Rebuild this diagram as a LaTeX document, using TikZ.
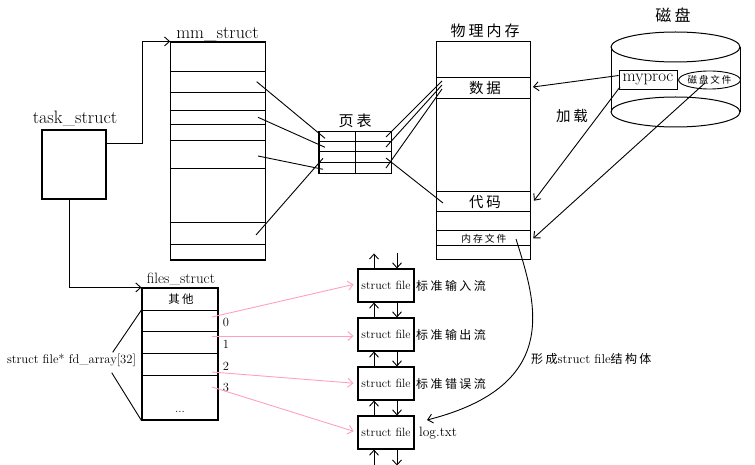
\documentclass[tikz,border=0pt]{standalone}
\usepackage{fontspec}
\newfontfamily\cjk[LetterSpace=20]{Noto Sans CJK SC}
\usetikzlibrary{arrows.meta,calc,shapes.geometric}
\definecolor{pinkc}{RGB}{255,160,195}
\newcommand\myfs[1]{\fontsize{#1}{#1}\selectfont}
\begin{document}
\begin{tikzpicture}[x=1pt,y=-1pt,
  box/.style={draw, line width=1.1pt, inner sep=0pt, rectangle},
  rowline/.style={line width=1pt},
  conn/.style={line width=0.9pt},
  arr/.style={line width=0.9pt, -{Straight Barb[length=5pt,width=9pt]}},
  pinkarr/.style={draw=pinkc, line width=0.9pt, -{Straight Barb[length=5pt,width=9pt]}},
  lbl/.style={inner sep=0pt}]
\useasboundingbox (0,0) rectangle (755,465);

% task_struct
\node[box, minimum width=64pt, minimum height=69pt] (task) at (74,164.5) {};
\node[lbl, anchor=base, font=\myfs{18}] (tasklbl) at (75,124) {task\_struct};

% mm_struct
\node[box, minimum width=95pt, minimum height=218pt] (mm) at (218.2,151) {};
\node[lbl, anchor=base, font=\myfs{18}] (mmlbl) at (217.5,39) {mm\_struct};
\foreach \yy in {71.7,92.3,111,124.3,141,169,222.7,244.3}
  \draw[rowline] (mm.west |- 0,\yy) -- (mm.east |- 0,\yy);

% page table
\node[box, minimum width=72.7pt, minimum height=42.3pt] (pt) at (355.3,152.8) {};
\node[lbl, font=\cjk\myfs{15}] (ptlbl) at (355,120.5) {页表};
\foreach \yy in {141.7,151.7,163}
  \draw[rowline] (pt.west |- 0,\yy) -- (pt.east |- 0,\yy);
\draw[rowline] (pt.north) -- (pt.south);

% physical memory
\node[box, minimum width=94pt, minimum height=217.3pt] (pm) at (483.7,150.6) {};
\node[lbl, font=\cjk\myfs{15}] (pmlbl) at (485,31) {物理内存};
\foreach \yy in {77.7,98.3,192,212,230.5,245.7}
  \draw[rowline] (pm.west |- 0,\yy) -- (pm.east |- 0,\yy);
\node[lbl, font=\cjk\myfs{14.5}] (data) at (485,88) {数据};
\node[lbl, font=\cjk\myfs{14.5}] (code) at (485,202) {代码};
\node[lbl, font=\cjk\myfs{9.8}] (memfile) at (484,238.3) {内存文件};

% disk
\draw[rowline] (675.5,47) ellipse [x radius=64.5pt, y radius=15pt];
\draw[rowline] (611,47) -- (611,112) (740,47) -- (740,112);
\draw[rowline] (675.5,112) ellipse [x radius=64.5pt, y radius=15pt];
\node[lbl, font=\cjk\myfs{16}] (disklbl) at (673,15) {磁盘};
\node[box, line width=0.9pt, minimum width=58pt, minimum height=19pt, font=\myfs{17}] (myproc) at (648,79.5) {myproc};
\node[draw, ellipse, line width=0.9pt, inner sep=0pt, minimum width=57pt, minimum height=18pt, font=\cjk\myfs{9.5}] (dfile) at (709.5,80) {磁盘文件};
\node[lbl, font=\cjk\myfs{14.5}] (load) at (572,116) {加载};

% files_struct
\node[box, minimum width=76pt, minimum height=132pt] (files) at (180,354) {};
\node[lbl, anchor=base, font=\myfs{15}] (fileslbl) at (181,283) {files\_struct};
\foreach \yy in {310,331.7,353.7,375.7}
  \draw[rowline] (files.west |- 0,\yy) -- (files.east |- 0,\yy);
\node[lbl, font=\cjk\myfs{11.5}] (other) at (181,299.5) {其他};
\node[lbl, anchor=base, font=\myfs{12}] (dots) at (180,412) {...};
\node[lbl, font=\myfs{12.5}] (n0) at (226,322) {0};
\node[lbl, font=\myfs{12.5}] (n1) at (226,344) {1};
\node[lbl, font=\myfs{12.5}] (n2) at (226,366.5) {2};
\node[lbl, font=\myfs{12.5}] (n3) at (226,387.5) {3};
\node[lbl, font=\myfs{12.6}] (fdarr) at (71.5,360) {struct file* fd\_array[32]};
\coordinate (f1) at (112.7,352.3);
\coordinate (f2) at (111.7,372.7);
\draw[conn] (f1) -- (files.west |- 0,310);
\draw[conn] (f2) -- (files.south west);

% arrows task -> mm, files
\draw[arr] ($(task.north east)!0.2!(task.south east)$) -- ++(36,0) |- (mm.north west);
\draw[arr] ([xshift=-5pt]task.south) |- (files.north west);

% mm -> page table
\coordinate (m1) at (256.7,81.7); \coordinate (p1) at (325,138.3);
\coordinate (m2) at (258,117.3);  \coordinate (p2) at (325,147.3);
\coordinate (m3) at (258,156);    \coordinate (p3) at (323,169.3);
\coordinate (m4) at (256,235);    \coordinate (p4) at (323,158.3);
\draw[conn] (m1) -- (p1);
\draw[conn] (m2) -- (p2);
\draw[conn] (m3) -- (p3);
\draw[conn] (m4) -- (p4);
% page table -> physical memory
\coordinate (q1) at (386,137);   \coordinate (d1) at (442,81);
\coordinate (q2) at (386,147);   \coordinate (d2) at (442,85);
\coordinate (q3) at (386,168);   \coordinate (d3) at (442,89);
\coordinate (q4) at (386,158);   \coordinate (c1) at (443,203);
\draw[conn] (q1) -- (d1);
\draw[conn] (q2) -- (d2);
\draw[conn] (q3) -- (d3);
\draw[conn] (q4) -- (c1);

% disk -> memory
\coordinate (t1) at (533,87);
\coordinate (t2) at (534,200.7);
\coordinate (t3) at (533.3,238.3);
\coordinate (s2) at (620,87);
\coordinate (s3) at (705,83);
\draw[arr] ($(myproc.north west)!0.3!(myproc.south west)$) -- (t1);
\draw[arr] (s2) -- (t2);
\draw[arr] (s3) -- (t3);

% struct file boxes
\foreach \i/\yc in {1/285.5,2/334.5,3/383.5,4/432.5}
  \node[box, minimum width=56pt, minimum height=33pt, font=\myfs{12}] (sf\i) at (386,\yc) {struct file};
\node[lbl, font=\cjk\myfs{12}] (in) at (451,286) {标准输入流};
\node[lbl, font=\cjk\myfs{12}] (out) at (451,335) {标准输出流};
\node[lbl, font=\cjk\myfs{12}] (err) at (451,384) {标准错误流};
\node[lbl, anchor=base west, font=\myfs{13.5}] (log) at (419,436) {log.txt};

% vertical list arrows
\draw[arr] ([xshift=-12pt]sf1.north) -- ([xshift=-12pt,yshift=15pt]sf1.north);
\draw[arr] ([xshift=11pt,yshift=15pt]sf1.north) -- ([xshift=11pt]sf1.north);
\foreach \a/\b in {1/2,2/3,3/4}{
  \draw[arr] ([xshift=-12pt]sf\b.north) -- ([xshift=-12pt]sf\a.south);
  \draw[arr] ([xshift=11pt]sf\a.south) -- ([xshift=11pt]sf\b.north);
}
\draw[arr] ([xshift=-12pt,yshift=-16pt]sf4.south) -- ([xshift=-12pt]sf4.south);
\draw[arr] ([xshift=11pt]sf4.south) -- ([xshift=11pt,yshift=-16pt]sf4.south);

% pink arrows
\coordinate (r0) at (212,317);
\coordinate (r1) at (212,336);
\coordinate (r2) at (212,372);
\coordinate (r3) at (212,387);
\draw[pinkarr, shorten >=4pt] (r0) -- ([yshift=2pt]sf1.west);
\draw[pinkarr, shorten >=4pt] (r1) -- ([yshift=-1.5pt]sf2.west);
\draw[pinkarr, shorten >=4pt] (r2) -- (sf3.west);
\draw[pinkarr, shorten >=4pt] (r3) -- (sf4.west);

% curved arrow
\coordinate (cm) at (516,239);
\draw[arr] (cm) .. controls (535,300) and (565,385) .. ([xshift=8pt,yshift=16pt]log.base west);
\node[lbl, anchor=west, font=\myfs{13}] (form) at (531,359) {{\cjk\myfs{12}形成}struct file{\cjk\myfs{12}结构体}};
\end{tikzpicture}
\end{document}
